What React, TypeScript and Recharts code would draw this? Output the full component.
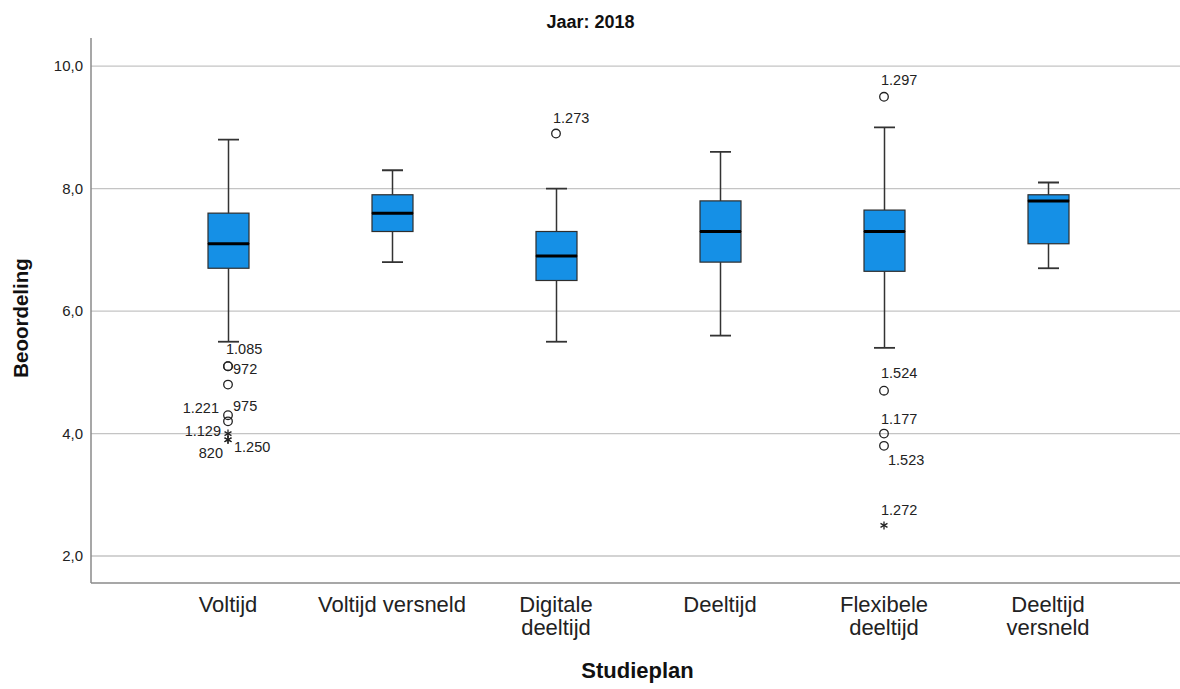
import React from 'react';
import { ComposedChart, Bar, Scatter, XAxis, YAxis, CartesianGrid } from 'recharts';

// ---------- data ----------
const categories = [
  'Voltijd',
  'Voltijd versneld',
  'Digitale deeltijd',
  'Deeltijd',
  'Flexibele deeltijd',
  'Deeltijd versneld',
];
const tickLabelLines = [
  ['Voltijd'],
  ['Voltijd versneld'],
  ['Digitale', 'deeltijd'],
  ['Deeltijd'],
  ['Flexibele', 'deeltijd'],
  ['Deeltijd', 'versneld'],
];
const whiskerLow = [5.5, 6.8, 5.5, 5.6, 5.4, 6.7];
const quartile1 = [6.7, 7.3, 6.5, 6.8, 6.65, 7.1];
const medians = [7.1, 7.6, 6.9, 7.3, 7.3, 7.8];
const quartile3 = [7.6, 7.9, 7.3, 7.8, 7.65, 7.9];
const whiskerHigh = [8.8, 8.3, 8.0, 8.6, 9.0, 8.1];

const outlierCategory = [
  'Voltijd', 'Voltijd', 'Voltijd', 'Voltijd', 'Voltijd', 'Voltijd', 'Voltijd', 'Voltijd',
  'Digitale deeltijd',
  'Flexibele deeltijd', 'Flexibele deeltijd', 'Flexibele deeltijd', 'Flexibele deeltijd', 'Flexibele deeltijd',
];
const outlierValue = [5.1, 5.1, 4.8, 4.3, 4.2, 4.0, 3.9, 3.9, 8.9, 9.5, 4.7, 4.0, 3.8, 2.5];
const outlierCase = ['1.085', '972', '', '1.221', '975', '1.129', '1.250', '820', '1.273', '1.297', '1.524', '1.177', '1.523', '1.272'];
const outlierExtreme = [false, false, false, false, false, true, true, true, false, false, false, false, false, true];

const yTicks = [2, 4, 6, 8, 10];
const yDomain = [1.56, 10.46];

// label placement (style, kept apart from the data): [dx, dy, anchor]
const labelPlacement: Record<string, [number, number, string]> = {
  '1.085': [-2, -12, 'start'],
  '972': [5, 8, 'start'],
  '1.221': [-9, -2, 'end'],
  '975': [5, -10, 'start'],
  '1.129': [-7, 2, 'end'],
  '1.250': [6, 12, 'start'],
  '820': [-5, 18, 'end'],
  '1.273': [-3, -11, 'start'],
  '1.297': [-3, -12, 'start'],
  '1.524': [-3, -13, 'start'],
  '1.177': [-3, -10, 'start'],
  '1.523': [4, 19, 'start'],
  '1.272': [-3, -10, 'start'],
};

// ---------- build chart rows ----------
const slotCount = Math.max(
  ...categories.map((c) => outlierCategory.filter((oc) => oc === c).length)
);
const rows = categories.map((name, i) => {
  const row: any = {
    name,
    lo: whiskerLow[i],
    w1: quartile1[i] - whiskerLow[i],
    b1: medians[i] - quartile1[i],
    b2: quartile3[i] - medians[i],
    w2: whiskerHigh[i] - quartile3[i],
  };
  let k = 0;
  outlierCategory.forEach((oc, j) => {
    if (oc === name) {
      row[`o${k}`] = outlierValue[j];
      row[`m${k}`] = j;
      k += 1;
    }
  });
  for (; k < slotCount; k++) {
    row[`o${k}`] = null;
    row[`m${k}`] = null;
  }
  return row;
});

// ---------- styles ----------
const FONT = '"Liberation Sans", Arial, Helvetica, sans-serif';
const BOX_FILL = '#1590e6';
const BOX_STROKE = '#2e2e2e';
const LINE = '#333333';
const CAP = 21;

const LowerWhisker = (p: any) => {
  const { x, y, width, height } = p;
  const cx = x + width / 2;
  return (
    <g>
      <line x1={cx} x2={cx} y1={y} y2={y + height} stroke={LINE} strokeWidth={1.5} />
      <line x1={cx - CAP / 2} x2={cx + CAP / 2} y1={y + height} y2={y + height} stroke={LINE} strokeWidth={1.8} />
    </g>
  );
};
const UpperWhisker = (p: any) => {
  const { x, y, width, height } = p;
  const cx = x + width / 2;
  return (
    <g>
      <line x1={cx} x2={cx} y1={y} y2={y + height} stroke={LINE} strokeWidth={1.5} />
      <line x1={cx - CAP / 2} x2={cx + CAP / 2} y1={y} y2={y} stroke={LINE} strokeWidth={1.8} />
    </g>
  );
};
const LowerBox = (p: any) => {
  const { x, y, width, height } = p;
  return <rect x={x} y={y} width={width} height={height} fill={BOX_FILL} stroke={BOX_STROKE} strokeWidth={1.2} />;
};
const UpperBox = (p: any) => {
  const { x, y, width, height } = p;
  return (
    <g>
      <rect x={x} y={y} width={width} height={height} fill={BOX_FILL} stroke={BOX_STROKE} strokeWidth={1.2} />
      <line x1={x} x2={x + width} y1={y + height} y2={y + height} stroke="#000" strokeWidth={3} />
    </g>
  );
};

const makeOutlierShape = (k: number) => (p: any) => {
  const { cx, cy, payload } = p;
  if (!payload || payload[`o${k}`] == null || cx == null || cy == null || isNaN(cy)) return <g />;
  const j = payload[`m${k}`];
  const label = outlierCase[j];
  const place = labelPlacement[label] || [5, 5, 'start'];
  const r = 4;
  return (
    <g>
      {outlierExtreme[j] ? (
        <g stroke="#222" strokeWidth={1.3}>
          <line x1={cx} x2={cx} y1={cy - r} y2={cy + r} />
          <line x1={cx - r * 0.87} x2={cx + r * 0.87} y1={cy - r / 2} y2={cy + r / 2} />
          <line x1={cx - r * 0.87} x2={cx + r * 0.87} y1={cy + r / 2} y2={cy - r / 2} />
        </g>
      ) : (
        <circle cx={cx} cy={cy} r={4.3} fill="none" stroke="#222" strokeWidth={1.3} />
      )}
      {label ? (
        <text
          x={cx + place[0]}
          y={cy + place[1]}
          textAnchor={place[2] as any}
          fontSize={14.5}
          fontFamily={FONT}
          fill="#222"
        >
          {label}
        </text>
      ) : null}
    </g>
  );
};

const XTick = (p: any) => {
  const { x, y, payload } = p;
  const idx = categories.indexOf(payload.value);
  const lines = idx >= 0 ? tickLabelLines[idx] : [String(payload.value)];
  return (
    <text x={x} y={y} textAnchor="middle" fontSize={22} fontFamily={FONT} fill="#222">
      {lines.map((l, i) => (
        <tspan key={i} x={x} dy={i === 0 ? 29 : 23}>
          {l}
        </tspan>
      ))}
    </text>
  );
};

// grid line renderer: skip the lines that fall on the plot's top / bottom edge
const GridLine = (p: any) => {
  const { x1, x2, y1, y2, y, height } = p;
  if (typeof y === 'number' && typeof height === 'number') {
    if (Math.abs(y1 - y) < 0.5 || Math.abs(y1 - (y + height)) < 0.5) return <g />;
  }
  return <line x1={x1} x2={x2} y1={y1} y2={y2} stroke="#c4c4c4" strokeWidth={1.4} />;
};

const fmt = (v: number) => v.toFixed(1).replace('.', ',');

export default function App() {
  return (
    <div style={{ position: 'absolute', left: 0, top: 0, width: 1180, height: 689, background: '#fff', fontFamily: FONT }}>
      <ComposedChart
        width={1180}
        height={689}
        data={rows}
        margin={{ top: 38, right: 0, bottom: 0, left: 0 }}
      >
        <CartesianGrid vertical={false} syncWithTicks horizontal={GridLine} stroke="#c4c4c4" strokeWidth={1.4} />
        <XAxis
          dataKey="name"
          type="category"
          interval={0}
          height={106}
          padding={{ left: 55, right: 50 }}
          tickLine={false}
          tickSize={0}
          tickMargin={0}
          axisLine={{ stroke: '#8a8a8a', strokeWidth: 1.5 }}
          tick={<XTick />}
        />
        <YAxis
          type="number"
          domain={yDomain}
          allowDataOverflow
          ticks={yTicks}
          width={91}
          tickLine={false}
          tickSize={0}
          tickMargin={8}
          tickFormatter={fmt}
          axisLine={{ stroke: '#8a8a8a', strokeWidth: 1.5 }}
          tick={{ fontSize: 15, fill: '#222', fontFamily: FONT }}
        />
        <Bar dataKey="lo" stackId="box" barSize={41} isAnimationActive={false} shape={() => <g />} />
        <Bar dataKey="w1" stackId="box" barSize={41} isAnimationActive={false} shape={LowerWhisker} />
        <Bar dataKey="b1" stackId="box" barSize={41} isAnimationActive={false} shape={LowerBox} />
        <Bar dataKey="b2" stackId="box" barSize={41} isAnimationActive={false} shape={UpperBox} />
        <Bar dataKey="w2" stackId="box" barSize={41} isAnimationActive={false} shape={UpperWhisker} />
        {Array.from({ length: slotCount }, (_, k) => (
          <Scatter
            key={k}
            dataKey={`o${k}`}
            isAnimationActive={false}
            shape={makeOutlierShape(k)}
          />
        ))}
      </ComposedChart>
      <svg
        width={1180}
        height={689}
        style={{ position: 'absolute', left: 0, top: 0, pointerEvents: 'none' }}
      >
        <text x={590.5} y={28} textAnchor="middle" fontSize={18} fontWeight="bold" fontFamily={FONT} fill="#111">
          Jaar: 2018
        </text>
        <text x={637.5} y={678} textAnchor="middle" fontSize={22} fontWeight="bold" fontFamily={FONT} fill="#111">
          Studieplan
        </text>
        <text
          x={28}
          y={318}
          textAnchor="middle"
          fontSize={20.5}
          fontWeight="bold"
          fontFamily={FONT}
          fill="#111"
          transform="rotate(-90, 28, 318)"
        >
          Beoordeling
        </text>
      </svg>
    </div>
  );
}
